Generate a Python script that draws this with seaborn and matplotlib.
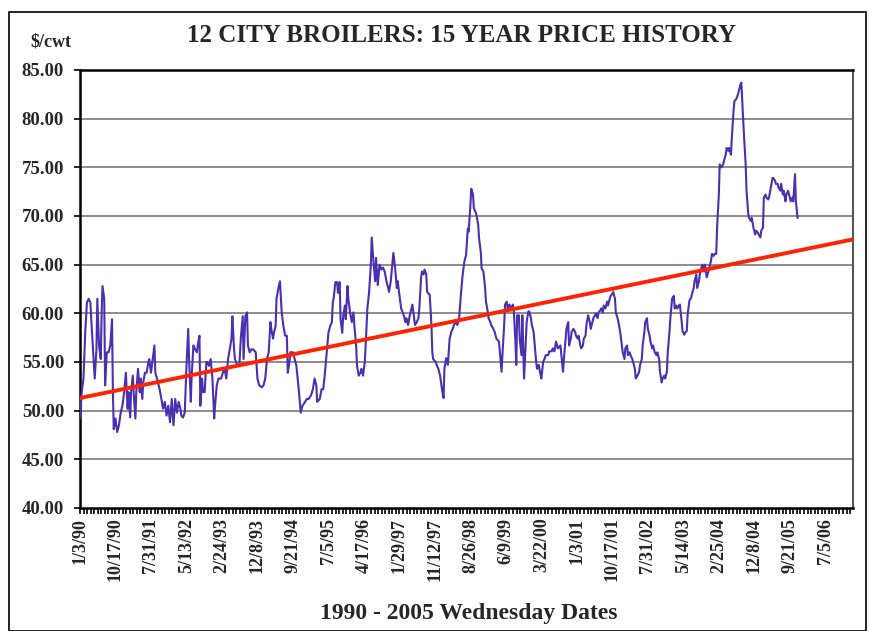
import numpy as np
import pandas as pd
import matplotlib
matplotlib.use("Agg")
import matplotlib.pyplot as plt
from matplotlib.patches import Rectangle
from matplotlib.ticker import FixedLocator, MultipleLocator
import seaborn as sns

# ---- data (week index since 1/3/90, $/cwt) ----
weeks = [
    0, 2, 4, 6, 8, 10, 12, 13, 15, 17,
    19, 20, 22, 24, 25, 26, 28, 29, 31, 33,
    35, 37, 38, 39, 41, 43, 45, 47, 49, 51,
    53, 55, 56, 58, 59, 61, 62, 64, 65, 67,
    69, 70, 72, 73, 75, 77, 79, 80, 82, 84,
    86, 87, 89, 92, 94, 96, 98, 100, 102, 104,
    106, 108, 110, 112, 114, 116, 117, 119, 121, 123,
    125, 126, 128, 129, 131, 133, 135, 136, 138, 139,
    141, 142, 144, 146, 147, 149, 151, 153, 155, 156,
    158, 160, 163, 165, 167, 169, 171, 173, 175, 176,
    178, 179, 182, 184, 186, 188, 189, 191, 193, 194,
    196, 198, 200, 203, 205, 207, 210, 212, 214, 216,
    218, 220, 221, 223, 224, 226, 227, 229, 231, 233,
    235, 237, 239, 240, 242, 243, 246, 248, 250, 253,
    255, 257, 260, 262, 264, 267, 269, 271, 273, 274,
    277, 279, 281, 283, 285, 287, 289, 291, 292, 293,
    295, 297, 298, 300, 301, 303, 304, 306, 307, 309,
    310, 312, 314, 316, 317, 319, 320, 322,
    324, 325, 327, 329, 330, 332, 334, 336, 337, 339,
    341, 342, 344, 346, 348, 350, 352, 354, 356, 357,
    359, 361, 362, 364, 366, 367, 369, 371, 374, 376,
    377, 379, 381, 384, 385, 387, 389, 391, 392, 394,
    395, 397, 398, 400, 401, 404, 406, 407, 408, 411,
    412, 414, 416,
    418, 420, 421, 423, 425, 427, 429, 431, 432, 434,
    436, 438, 440, 442, 444, 446, 448, 449, 451, 452,
    454, 455, 457, 458, 460, 461, 463, 464, 466, 468,
    469, 471, 472, 474, 475, 477, 479, 481, 484, 485,
    487, 488, 490, 491, 493, 494, 496, 498, 500, 501,
    503, 504, 505, 507, 508, 510, 511, 513, 515, 516,
    518, 519, 521, 522, 524, 525, 527, 528, 530, 532,
    533, 535, 537, 538, 541, 542, 545, 546, 548, 550,
    552, 555,
    558, 559, 561, 562, 564, 565, 567, 568, 570, 572,
    573, 575, 576, 578, 579, 581, 582, 584, 585, 587,
    589, 590, 592, 593, 595, 596, 598, 599, 601, 602,
    604, 605, 607, 609, 610, 612, 613, 615, 616, 618,
    619, 621, 622, 624, 625, 627, 629, 630, 632, 633,
    635, 636, 638, 639, 641, 642, 644, 646, 647, 649,
    650, 652, 653, 655, 656, 658, 659, 661, 662, 664,
    666, 667, 669, 670, 672, 673, 675, 676, 678, 679,
    681, 682, 684, 686, 687, 689, 690, 692,
    693, 695, 696, 698, 699, 701, 702, 704, 706, 707,
    709, 710, 712, 713, 715, 716, 718, 719, 721, 722,
    724, 726, 727, 729, 730, 732, 733, 735, 736, 738,
    739, 741, 743, 744, 746, 747, 749, 750, 752, 753,
    755, 756, 758, 759, 761, 763, 764, 766, 767, 769,
    770, 772, 773, 775, 776, 778, 780, 781, 783, 784,
    786, 787, 789, 790, 792, 793, 795, 796, 798, 800,
    801, 803, 804, 806, 807, 809, 810, 812, 813, 815,
    816, 818, 820, 821, 823, 824, 826, 827, 829,
]
prices = [
    49.2, 51.9, 53.3, 58.0, 61.1, 61.5, 61.1, 59.4, 56.3, 53.3,
    56.3, 61.5, 56.7, 55.3, 60.1, 62.8, 61.5, 52.6, 56.0, 56.0,
    56.7, 59.4, 51.9, 48.1, 49.2, 47.8, 48.5, 49.8, 50.5, 51.9,
    53.9, 50.2, 51.9, 49.3, 51.9, 53.6, 51.9, 49.2, 51.9, 54.3,
    51.9, 53.3, 51.2, 52.9, 53.9, 53.9, 55.0, 55.3, 53.9, 55.3,
    56.7, 53.9, 53.3, 52.2, 51.2, 50.2, 50.9, 49.5, 50.5, 48.8,
    51.2, 48.5, 51.2, 49.8, 50.9, 50.2, 49.5, 49.3, 49.8, 54.6,
    58.4, 55.3, 50.9, 53.6, 56.7, 56.3, 56.0, 56.7, 57.7, 50.5,
    53.3, 51.9, 51.9, 55.0, 55.0, 54.6, 55.3, 53.3, 49.2, 50.5,
    52.6, 53.3, 53.3, 53.9, 54.3, 53.3, 55.3, 56.3, 57.4, 59.7,
    56.3, 55.3, 54.6, 54.6, 57.7, 59.7, 55.3, 59.7, 60.1, 56.7,
    56.0, 56.3, 56.3, 56.0, 53.3, 52.6, 52.4, 52.6, 53.3, 55.3,
    56.0, 59.1, 58.4, 57.4, 58.0, 58.7, 61.5, 62.5, 63.3, 60.1,
    58.7, 57.7, 57.7, 53.9, 55.0, 56.0, 56.0, 55.3, 54.6, 51.9,
    49.8, 50.5, 50.9, 51.2, 51.2, 51.6, 52.2, 53.3, 52.6, 50.9,
    51.2, 52.2, 52.2, 53.9, 56.0, 58.0, 58.7, 59.1, 61.1, 61.5,
    63.2, 63.2, 62.1, 63.2, 59.4, 58.0, 59.7, 60.8, 59.4, 62.8,
    61.5, 60.1, 59.1, 60.1, 58.7, 56.7, 54.6, 53.6,
    53.9, 54.3, 53.6, 55.0, 56.7, 60.5, 62.2, 65.0, 67.8, 65.3,
    63.3, 65.7, 62.9, 65.0, 64.5, 64.7, 64.3, 63.3, 62.6, 62.2,
    63.3, 65.3, 66.2, 64.7, 62.6, 63.3, 61.9, 60.5, 59.8, 59.1,
    59.5, 58.8, 59.8, 60.9, 60.2, 58.8, 59.1, 59.5, 60.5, 63.6,
    64.3, 64.0, 64.5, 64.0, 62.2, 61.9, 58.8, 56.0, 55.3, 55.0,
    54.7, 54.3, 53.6,
    52.3, 51.3, 54.3, 55.4, 54.7, 57.4, 58.1, 58.5, 58.8, 59.1,
    58.8, 59.5, 61.9, 63.9, 65.3, 66.0, 68.7, 68.4, 71.1, 72.8,
    72.2, 70.8, 70.4, 70.1, 69.1, 67.7, 66.3, 64.6, 64.3, 62.6,
    61.2, 60.2, 59.5, 59.1, 58.8, 58.5, 58.1, 57.4, 57.1, 56.1,
    54.0, 55.7, 58.8, 60.9, 61.2, 60.5, 60.9, 60.5, 60.9, 60.5,
    57.1, 54.7, 59.8, 59.8, 57.4, 55.7, 59.8, 53.3, 57.1, 59.1,
    60.2, 60.2, 59.5, 58.8, 58.1, 57.1, 55.0, 54.3, 54.7, 53.7,
    53.3, 55.0, 55.4, 55.7, 55.7, 56.1, 56.1, 56.4, 56.1, 57.1,
    56.4, 56.7,
    54.0, 55.3, 57.4, 58.4, 59.1, 56.7, 57.4, 58.1, 58.4, 58.1,
    57.7, 57.4, 57.7, 56.7, 56.4, 56.7, 57.4, 57.7, 58.8, 59.8,
    59.1, 58.4, 59.1, 59.5, 59.8, 60.0, 59.5, 60.1, 60.3, 60.5,
    60.1, 60.8, 60.5, 61.2, 60.8, 61.5, 61.8, 62.0, 62.2, 61.5,
    60.1, 59.5, 59.1, 58.1, 57.4, 56.0, 55.3, 56.4, 56.7, 55.7,
    56.0, 55.7, 55.3, 55.0, 54.3, 53.3, 53.6, 54.0, 54.7, 55.3,
    56.7, 58.1, 59.1, 59.5, 58.4, 57.7, 57.1, 56.4, 56.7, 56.0,
    55.7, 56.0, 55.3, 54.0, 52.9, 53.3, 53.6, 53.3, 54.0, 56.0,
    58.1, 59.5, 61.5, 61.8, 60.5, 60.8, 60.5, 60.8,
    60.9, 59.2, 58.2, 57.8, 58.0, 58.2, 59.9, 61.3, 61.6, 62.0,
    62.6, 63.3, 64.0, 62.6, 63.3, 64.0, 64.7, 65.0, 64.3, 65.0,
    63.7, 64.3, 64.7, 65.4, 66.1, 65.9, 66.1, 66.1, 68.8, 72.2,
    75.3, 75.0, 75.3, 75.7, 76.3, 77.0, 76.7, 77.0, 76.3, 78.0,
    80.8, 81.8, 82.0, 82.2, 82.8, 83.5, 83.7, 80.1, 78.4, 75.3,
    72.6, 70.2, 69.8, 69.5, 69.8, 68.8, 68.1, 68.5, 68.3, 68.1,
    67.8, 68.5, 68.8, 71.9, 72.2, 71.9, 71.7, 71.9, 72.9, 73.9,
    73.9, 73.6, 73.3, 73.3, 72.9, 72.6, 73.3, 72.2, 72.6, 71.5,
    72.2, 72.6, 71.9, 71.5, 71.9, 71.5, 74.3, 71.5, 69.8,
]

# linear trend line end points
trend_weeks = [0, 893]
trend_prices = [51.3, 67.6]

# x tick labels (every 41 weeks)
tick_labels = ["1/3/90", "10/17/90", "7/31/91", "5/13/92", "2/24/93", "12/8/93",
               "9/21/94", "7/5/95", "4/17/96", "1/29/97", "11/12/97", "8/26/98",
               "6/9/99", "3/22/00", "1/3/01", "10/17/01", "7/31/02", "5/14/03",
               "2/25/04", "12/8/04", "9/21/05", "7/5/06"]
tick_step = 41
y_ticks = [40, 45, 50, 55, 60, 65, 70, 75, 80, 85]

price_df = pd.DataFrame({"week": weeks, "price": prices})
trend_df = pd.DataFrame({"week": trend_weeks, "price": trend_prices})

sns.set_style("white")
plt.rcParams['font.family'] = ['Liberation Serif', 'DejaVu Serif']
plt.rcParams['font.weight'] = 'bold'

W, H = 869, 631
fig = plt.figure(figsize=(W / 100, H / 100), dpi=100)
ax = fig.add_axes([80 / W, 1 - 508 / H, 773 / W, 438 / H])

# grid lines
for yv in y_ticks[1:-1]:
    ax.axhline(yv, color='#8c8c8c', lw=1.4, zorder=0)

sns.lineplot(data=price_df, x="week", y="price", ax=ax, color='#4a2fb2',
             lw=1.5, sort=False, estimator=None, zorder=3)
sns.lineplot(data=trend_df, x="week", y="price", ax=ax, color='#ff2200',
             lw=2.8, sort=False, estimator=None, zorder=4)

ax.set_xlim(0, 893)
ax.set_ylim(40, 85)
ax.set_xlabel("")
ax.set_ylabel("")

ax.xaxis.set_major_locator(FixedLocator([i * tick_step for i in range(len(tick_labels))]))
ax.set_xticklabels(tick_labels, rotation=90, fontsize=13, fontweight='bold')
ax.xaxis.set_minor_locator(MultipleLocator(tick_step / 10))
ax.set_yticks(y_ticks)
ax.set_yticklabels([f"{v:.2f}" for v in y_ticks], fontsize=13.5, fontweight='bold')

ax.tick_params(axis='both', which='both', direction='out', color='black',
               length=4.5, width=1.2)
ax.tick_params(axis='x', which='both', length=4, bottom=True, pad=3)
ax.tick_params(axis='y', left=True, pad=7)

for side in ['left', 'bottom', 'top']:
    ax.spines[side].set_color('black')
    ax.spines[side].set_linewidth(1.8)
ax.spines['right'].set_color('#555555')
ax.spines['right'].set_linewidth(1.5)

fig.text(462 / W, 1 - 35 / H, "12 CITY BROILERS: 15 YEAR PRICE HISTORY",
         ha='center', va='center', fontsize=18, fontweight='bold')
fig.text(51 / W, 1 - 42 / H, "$/cwt", ha='center', va='center',
         fontsize=13, fontweight='bold')
fig.text(469 / W, 1 - 614 / H, "1990 - 2005 Wednesday Dates", ha='center',
         va='center', fontsize=17, fontweight='bold')

# outer frame
fig.patches.append(Rectangle((9 / W, 0), (866 - 9) / W, 1 - 12 / H,
                             transform=fig.transFigure, fill=False,
                             edgecolor='black', lw=1.2))

fig.savefig("out.png", dpi=100)
